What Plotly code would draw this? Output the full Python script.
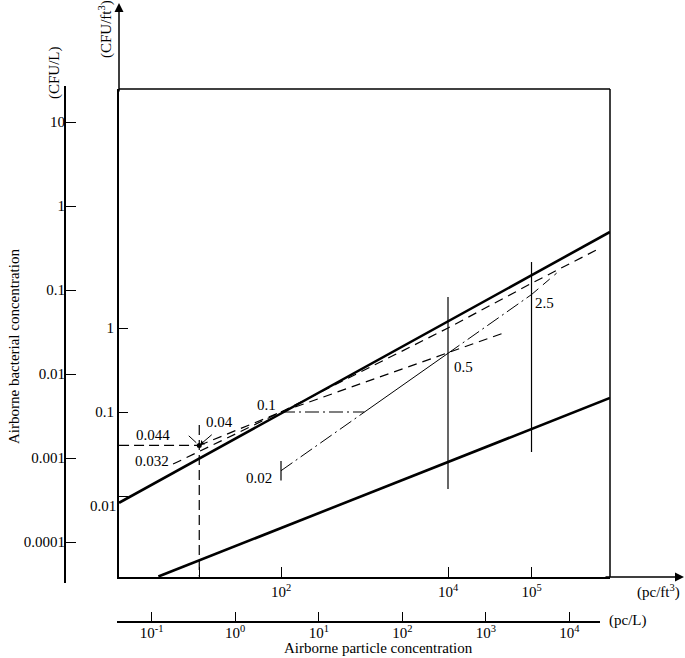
import math
import plotly.graph_objects as go

# main axes: particles in pc/ft3, bacteria in CFU/ft3; outer axes in pc/L and CFU/L
L_PER_FT3 = 28.32

# heavy reference lines
upper_x = [1.15, 8.7e5]
upper_y = [0.0083, 13.9]
lower_x = [3.4, 8.7e5]
lower_y = [0.0011, 0.147]

# thin line 0.02 -> 0.1 -> 0.5 -> 2.5
path_x = [100, 1000, 1e4, 1e5, 2e5]
path_y = [0.02, 0.1, 0.5, 2.5, 4.5]

# dashed curves
dash032_x = [5.1, 100]
dash032_y = [0.024, 0.1]
dash044_x = [10.5, 100]
dash044_y = [0.04, 0.1]
dashlow_x = [100, 1e4, 4.6e4]
dashlow_y = [0.1, 0.5, 0.87]
dashup_x = [100, 1e4, 1e5, 6e5]
dashup_y = [0.1, 1.0, 3.4, 8.5]

# reading guides
hguide_x = [1.15, 10.5]
hguide_y = [0.04, 0.04]
vguide_x = [10.5, 10.5]
vguide_y = [0.07, 0.0011]
hdd_x = [100, 1000]
hdd_y = [0.1, 0.1]
v4_x = [1e4, 1e4]
v4_y = [2.34, 0.0121]
v5_x = [1e5, 1e5]
v5_y = [6.1, 0.0334]

point_x = [10.5]
point_y = [0.04]
tick02_x = [100]
tick02_y = [0.02]

# ticks
ft3_ticks = [10.5, 100, 1e4, 1e5]
ft3_text = ["", "10<sup>2</sup>", "10<sup>4</sup>", "10<sup>5</sup>"]
pcl_ticks = [0.1, 1, 10, 100, 1000, 10000]
pcl_text = ["10<sup>-1</sup>", "10<sup>0</sup>", "10<sup>1</sup>", "10<sup>2</sup>", "10<sup>3</sup>", "10<sup>4</sup>"]
cfuft3_ticks = [1, 0.1, 0.01]
cfuft3_text = ["1", "0.1", ""]   # 0.01 is written a little below its tick, see label()
cful_ticks = [10, 1, 0.1, 0.01, 0.001, 0.0001]
cful_text = ["10", "1", "0.1", "0.01", "0.001", "0.0001"]

W, H = 685, 658
X_RANGE = [0.06, 5.94]
Y_RANGE = [-2.964, 2.845]
SHIFT = math.log10(L_PER_FT3)
FONT = "Liberation Serif, Times New Roman, serif"
FS = 15

def px(x):
    return x / W

def py(y):
    return 1 - y / H

def line(x, y, width, dash="solid"):
    return go.Scatter(x=x, y=y, mode="lines", line=dict(color="black", width=width, dash=dash),
                      hoverinfo="skip", showlegend=False)

DASH = "9px,6px"
DASHDOT = "14px,4px,2px,4px"
GUIDE = "10px,5px"

fig = go.Figure()
fig.add_trace(line(upper_x, upper_y, 2.6))
fig.add_trace(line(lower_x, lower_y, 2.6))
fig.add_trace(line(path_x[:2], path_y[:2], 1, DASHDOT))
fig.add_trace(line(path_x[1:3], path_y[1:3], 1))
fig.add_trace(line(path_x[2:4], path_y[2:4], 1, DASHDOT))
fig.add_trace(line(path_x[3:], path_y[3:], 1, DASH))
fig.add_trace(line(dash032_x, dash032_y, 1.2, DASH))
fig.add_trace(line(dash044_x, dash044_y, 1.2, DASH))
fig.add_trace(line(dashlow_x, dashlow_y, 1.2, DASH))
fig.add_trace(line(dashup_x, dashup_y, 1.2, DASH))
fig.add_trace(line(hguide_x, hguide_y, 1.2, GUIDE))
fig.add_trace(line(vguide_x, vguide_y, 1.2, GUIDE))
fig.add_trace(line(hdd_x, hdd_y, 1.2, DASHDOT))
fig.add_trace(line(v4_x, v4_y, 1.2))
fig.add_trace(line(v5_x, v5_y, 1.2))
fig.add_trace(go.Scatter(x=point_x, y=point_y, mode="markers", marker=dict(color="black", size=5),
                         hoverinfo="skip", showlegend=False))
fig.add_trace(go.Scatter(x=tick02_x, y=tick02_y, mode="markers",
                         marker=dict(symbol="line-ns-open", size=14, color="black",
                                     line=dict(color="black", width=1.2)),
                         hoverinfo="skip", showlegend=False))
# invisible traces so the outer axes are built
fig.add_trace(go.Scatter(x=pcl_ticks, y=[1] * len(pcl_ticks), xaxis="x2", yaxis="y", mode="markers",
                         marker=dict(opacity=0), hoverinfo="skip", showlegend=False))
fig.add_trace(go.Scatter(x=[100] * len(cful_ticks), y=cful_ticks, xaxis="x", yaxis="y2", mode="markers",
                         marker=dict(opacity=0), hoverinfo="skip", showlegend=False))

tickfont = dict(family=FONT, size=FS, color="black")
common = dict(type="log", showgrid=False, zeroline=False, ticks="inside", tickcolor="black",
              tickwidth=1.3, tickfont=tickfont, automargin=False, fixedrange=True)

fig.update_layout(
    template="none",
    width=W, height=H,
    margin=dict(l=0, r=0, t=0, b=0),
    paper_bgcolor="white", plot_bgcolor="white",
    font=dict(family=FONT, size=FS, color="black"),
    showlegend=False,
    xaxis=dict(common, range=X_RANGE, domain=[px(119), px(610)], anchor="y",
               tickvals=ft3_ticks, ticktext=ft3_text, ticklen=10,
               showline=True, linecolor="black", linewidth=2),
    yaxis=dict(common, range=Y_RANGE, domain=[py(577), py(89)], anchor="x",
               tickvals=cfuft3_ticks, ticktext=cfuft3_text, ticklen=9,
               showline=True, linecolor="black", linewidth=2),
    xaxis2=dict(common, overlaying="x", anchor="free", position=py(622), side="bottom",
                range=[X_RANGE[0] - SHIFT, X_RANGE[1] - SHIFT],
                tickvals=pcl_ticks, ticktext=pcl_text, ticklen=10, showline=False),
    yaxis2=dict(common, overlaying="y", anchor="free", position=px(65), side="left",
                range=[Y_RANGE[0] - SHIFT, Y_RANGE[1] - SHIFT],
                tickvals=cful_ticks, ticktext=cful_text, ticklen=10, showline=False),
)

# box top/right and outer axis lines
fig.add_shape(type="line", xref="paper", yref="paper", x0=px(119), y0=py(89), x1=px(610), y1=py(89),
              line=dict(color="black", width=1.5))
fig.add_shape(type="line", xref="paper", yref="paper", x0=px(610), y0=py(89), x1=px(610), y1=py(577),
              line=dict(color="black", width=1.5))
fig.add_shape(type="line", xref="paper", yref="paper", x0=px(65), y0=py(86), x1=px(65), y1=py(583),
              line=dict(color="black", width=2))
fig.add_shape(type="line", xref="paper", yref="paper", x0=px(117), y0=py(622), x1=px(600), y1=py(622),
              line=dict(color="black", width=2))

# axis arrows
fig.add_annotation(x=px(119), y=py(3), xref="paper", yref="paper", ax=0, ay=90, text="",
                   showarrow=True, arrowhead=2, arrowsize=1.2, arrowwidth=1.5, arrowcolor="black")
fig.add_annotation(x=px(684), y=py(577), xref="paper", yref="paper", ax=-80, ay=0, text="",
                   showarrow=True, arrowhead=2, arrowsize=1.2, arrowwidth=1.5, arrowcolor="black")

# pointers to the 0.044 point
lx, ly = math.log10(point_x[0]), math.log10(point_y[0])
fig.add_annotation(x=lx, y=ly, xref="x", yref="y", ax=14, ay=-12, text="", showarrow=True,
                   arrowhead=1, arrowsize=1, arrowwidth=1, arrowcolor="black", standoff=2)
fig.add_annotation(x=lx, y=ly, xref="x", yref="y", ax=-12, ay=-11, text="", showarrow=True,
                   arrowhead=0, arrowwidth=1, arrowcolor="black", standoff=4)

def label(text, x, y, size=FS, angle=0):
    fig.add_annotation(x=px(x), y=py(y), xref="paper", yref="paper", text=text, showarrow=False,
                       textangle=angle, font=dict(family=FONT, size=size, color="black"),
                       xanchor="center", yanchor="middle")

label("0.01", 103, 506)
label("0.044", 153, 435)
label("0.032", 152, 461)
label("0.04", 219, 422)
label("0.1", 266, 405)
label("0.02", 259, 478)
label("0.5", 463, 367)
label("2.5", 544, 303)

label("Airborne bacterial concentration", 14, 347, angle=-90)
label("(CFU/L)", 55, 73, angle=-90)
label("(CFU/ft<sup>3</sup>)", 106, 29, angle=-90)
label("(pc/ft<sup>3</sup>)", 658, 591)
label("(pc/L)", 627, 620)
label("Airborne particle concentration", 378, 648)

# page body has a default margin; drop it so the figure sits at the window's corner
fig.write_html("out.html", config={"displayModeBar": False},
               post_script="document.body.style.margin='0';")
